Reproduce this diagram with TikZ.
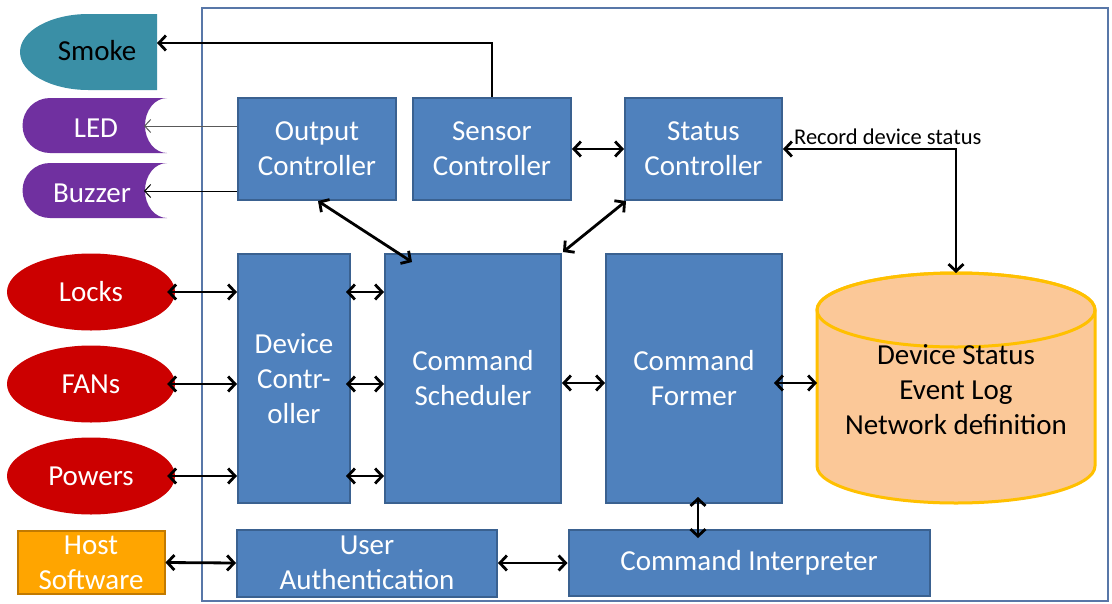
\documentclass[tikz,border=0pt]{standalone}
\usepackage{fontspec}
\setmainfont{Carlito}
\usetikzlibrary{arrows.meta,shapes.geometric}
\definecolor{boxblue}{HTML}{4F81BD}
\definecolor{boxedge}{HTML}{3A6190}
\definecolor{framecol}{HTML}{5877A8}
\definecolor{smokecol}{HTML}{3A8FA6}
\definecolor{ledcol}{HTML}{7030A0}
\definecolor{devred}{HTML}{CC0000}
\definecolor{hostfill}{HTML}{FFA500}
\definecolor{hostedge}{HTML}{C27A00}
\definecolor{dbfill}{HTML}{FBC898}
\definecolor{dbedge}{HTML}{FFC000}
\begin{document}
\begin{tikzpicture}[x=1pt,y=-1pt,
  every node/.style={font=\fontsize{29}{35}\selectfont},
  blk/.style={draw=boxedge,fill=boxblue,line width=2pt,text=white,align=center,inner sep=0pt},
  periph/.style={ellipse,fill=devred,text=white,inner sep=0pt,minimum width=168pt,minimum height=77pt},
  lbl/.style={text=white,inner sep=0pt},
  bi/.style={line width=2.8pt,{Straight Barb[length=7pt,width=15pt]}-{Straight Barb[length=7pt,width=15pt]}},
  one/.style={line width=2.8pt,-{Straight Barb[length=7pt,width=15pt]}},
  fine/.style={line width=1pt,-{Straight Barb[length=6pt,width=13pt]}},
]
% canvas
\fill[white] (0,0) rectangle (1112,603);
\useasboundingbox (0,0) rectangle (1112,603);

% system frame
\draw[framecol,line width=2pt] (202,8) rectangle (1108,601);

% external actuators on the left
\fill[smokecol] (157,14) -- (88.5,14) arc[start angle=270,end angle=90,x radius=68.5,y radius=38] -- (157,90) -- cycle;
\node[inner sep=0pt] (smoke) at (97,51) {Smoke};
\coordinate (smokeR) at (157,43);

\fill[ledcol] (50,98) -- (167,98) arc[start angle=270,end angle=90,x radius=22,y radius=27.5] -- (50,153) arc[start angle=90,end angle=270,radius=27.5] -- cycle;
\node[lbl] (led) at (96,128) {LED};
\coordinate (ledtip) at (144,126);

\fill[ledcol] (50,163) -- (167,163) arc[start angle=270,end angle=90,x radius=22,y radius=27.5] -- (50,218) arc[start angle=90,end angle=270,radius=27.5] -- cycle;
\node[lbl] (buzzer) at (92,193) {Buzzer};
\coordinate (buztip) at (144,191);

\node[periph] (locks) at (91,292) {Locks};
\node[periph] (fans) at (91,384) {FANs};
\node[periph] (powers) at (91,476) {Powers};

\node[draw=hostedge,fill=hostfill,line width=2pt,text=white,align=center,inner sep=0pt,
      minimum width=147pt,minimum height=63pt] (host) at (91,562.5) {Host\\Software};

% controller blocks
\node[blk,minimum width=158pt,minimum height=102pt] (out) at (317,149) {Output\\Controller};
\node[blk,minimum width=158pt,minimum height=102pt] (sen) at (492,149) {Sensor\\Controller};
\node[blk,minimum width=157pt,minimum height=102pt] (sta) at (703.5,149) {Status\\Controller};
\node[blk,minimum width=112pt,minimum height=249pt] (dev) at (294,378.5) {Device\\Contr-\\oller};
\node[blk,minimum width=176pt,minimum height=249pt] (sch) at (473,378.5) {Command\\Scheduler};
\node[blk,minimum width=176pt,minimum height=249pt] (fmr) at (694,378.5) {Command\\Former};
\node[blk,minimum width=260pt,minimum height=67pt] (usr) at (367,563) {User\\Authentication};
\node[blk,minimum width=361pt,minimum height=66pt] (ci) at (749,563) {Command Interpreter};

% database cylinder
\filldraw[fill=dbfill,draw=dbedge,line width=3pt]
  (817,310) -- (817,466) arc[start angle=180,end angle=0,x radius=139,y radius=37]
  -- (1095,310) arc[start angle=0,end angle=-180,x radius=139,y radius=37] -- cycle;
\draw[dbedge,line width=3pt] (956,310) ellipse[x radius=139,y radius=37];
\node[align=center,inner sep=0pt] (db) at (956,390)
  {Device Status\\Event Log\\Network definition};
\coordinate (dbtop) at (956,273);
\coordinate (dbleft) at (817,383);

% connectors
\draw[one] (sen.north) |- (smokeR);
\draw[fine,black!65] (out.west |- ledtip) -- (ledtip);
\draw[fine] (out.west |- buztip) -- (buztip);

\draw[bi] (sen.east) -- (sta.west);
\draw[bi] (dbtop) |- (sta.east);
\node[anchor=base west,inner sep=0pt,font=\fontsize{22.5}{26}\selectfont] (rec) at (794,144) {Record device status};

\draw[bi] ([xshift=1pt]out.south) -- ([xshift=28pt,yshift=-9pt]sch.north west);
\draw[bi] ([xshift=2pt]sta.south west) -- ([xshift=1pt,yshift=1pt]sch.north east);

\draw[bi] ([xshift=-8pt]locks.east) -- (dev.west |- locks.east);
\draw[bi] ([xshift=-8pt]fans.east) -- (dev.west |- fans.east);
\draw[bi] ([xshift=-8pt]powers.east) -- (dev.west |- powers.east);

\draw[bi] ([xshift=-5pt]dev.east |- locks.east) -- (sch.west |- locks.east);
\draw[bi] ([xshift=-5pt]dev.east |- fans.east) -- (sch.west |- fans.east);
\draw[bi] ([xshift=-5pt]dev.east |- powers.east) -- (sch.west |- powers.east);

\draw[bi] (sch.east |- dbleft) -- (fmr.west |- dbleft);
\draw[bi] ([xshift=-9pt]fmr.east |- dbleft) -- (dbleft);
\draw[bi] ([xshift=4pt,yshift=7pt]fmr.south) -- ([xshift=4pt,yshift=-9pt]fmr.south |- ci.north);

\draw[bi] (host.east) -- (usr.west);
\draw[bi] (usr.east) -- (ci.west);
\end{tikzpicture}
\end{document}
